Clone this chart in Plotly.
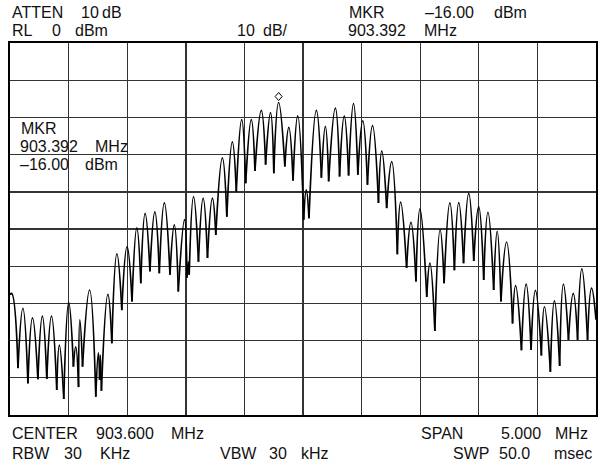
import plotly.graph_objects as go

# ---- data ----
center_mhz = 903.600
span_mhz = 5.000
ref_level_dbm = 0
db_per_div = 10
marker_freq_mhz = 903.392
marker_level_dbm = -16.00

# alternating null / peak vertices of the displayed trace (first value is the
# trace start at the left edge, last is the trace end at the right edge)
freq_mhz = [
    901.100, 901.114, 901.168, 901.210, 901.253, 901.292, 901.338, 901.376, 901.414, 901.454,
    901.499, 901.521, 901.559, 901.601, 901.641, 901.661, 901.685, 901.696, 901.719, 901.779,
    901.832, 901.854, 901.865, 901.871, 901.880, 901.935, 901.969, 902.012, 902.054, 902.099,
    902.141, 902.182, 902.216, 902.253, 902.294, 902.336, 902.374, 902.417, 902.465, 902.502,
    902.536, 902.589, 902.610, 902.621, 902.629, 902.666, 902.708, 902.748, 902.785, 902.827,
    902.856, 902.912, 902.950, 902.997, 903.031, 903.077, 903.111, 903.159, 903.190, 903.244,
    903.281, 903.323, 903.351, 903.392, 903.445, 903.479, 903.515, 903.555, 903.606, 903.628,
    903.651, 903.714, 903.757, 903.791, 903.819, 903.876, 903.912, 903.952, 903.989, 904.031,
    904.068, 904.110, 904.150, 904.193, 904.244, 904.272, 904.314, 904.357, 904.405, 904.433,
    904.484, 904.521, 904.564, 904.598, 904.656, 904.683, 904.725, 904.770, 904.804, 904.853,
    904.892, 904.929, 904.970, 905.014, 905.057, 905.099, 905.142, 905.178, 905.227, 905.257,
    905.289, 905.337, 905.388, 905.414, 905.464, 905.504, 905.546, 905.583, 905.634, 905.660,
    905.711, 905.745, 905.790, 905.822, 905.865, 905.906, 905.943, 905.979, 906.028, 906.062,
    906.100,
]
level_dbm = [
    -67.7, -67.3, -87.4, -71.3, -91.5, -73.9, -90.4, -73.4, -90.3, -73.4,
    -93.3, -81.2, -95.7, -69.8, -87.0, -81.7, -92.5, -74.4, -87.0, -66.4,
    -95.1, -83.3, -90.6, -83.9, -93.5, -67.6, -80.7, -56.7, -71.8, -54.7,
    -69.5, -49.7, -64.6, -45.8, -61.4, -45.4, -61.9, -43.0, -62.3, -48.9,
    -66.8, -47.5, -63.1, -58.8, -62.3, -41.3, -58.8, -41.7, -57.8, -41.7,
    -51.6, -30.9, -46.7, -26.6, -39.9, -20.6, -37.7, -20.6, -34.4, -18.1,
    -32.7, -18.7, -35.0, -16.0, -33.2, -22.7, -37.0, -19.6, -47.5, -39.5,
    -47.1, -18.1, -36.2, -22.4, -37.2, -17.5, -35.9, -19.6, -35.6, -16.3,
    -35.4, -20.9, -38.1, -22.2, -43.0, -29.0, -44.4, -31.9, -56.8, -42.8,
    -60.5, -48.2, -64.1, -44.6, -68.3, -59.2, -77.4, -50.2, -64.6, -43.0,
    -61.1, -42.9, -59.2, -40.4, -58.6, -44.0, -63.7, -45.5, -66.4, -50.6,
    -69.5, -53.5, -75.4, -65.2, -82.6, -64.8, -82.5, -66.5, -84.0, -70.9,
    -88.4, -69.3, -86.8, -64.8, -79.8, -67.3, -79.8, -60.7, -79.8, -65.9,
    -74.4,
]

# header / footer texts: (text, left px, center y px)
header_texts = [
    ("ATTEN", 10, 12), ("10", 79, 12), ("dB", 100, 12),
    ("MKR", 348, 12), ("\u201316.00", 424, 12), ("dBm", 494, 12),
    ("RL", 10, 30), ("0", 50, 30), ("dBm", 73, 30),
    ("10", 236, 30), ("dB/", 262, 30),
    ("903.392", 347, 30), ("MHz", 423, 30),
]
footer_texts = [
    ("CENTER", 10, 433), ("903.600", 94, 433), ("MHz", 170, 433),
    ("SPAN", 420, 433), ("5.000", 501, 433), ("MHz", 555, 433),
    ("RBW", 10, 454), ("30", 62, 454), ("KHz", 98, 454),
    ("VBW", 219, 454), ("30", 268, 454), ("kHz", 300, 454),
    ("SWP", 453, 454), ("50.0", 499, 454), ("msec", 554, 454),
]
inplot_texts = [
    ("MKR", 19, 128.5),
    ("903.392", 18, 146), ("MHz", 93, 146),
    ("\u201316.00", 18, 164), ("dBm", 83, 164),
]

# ---- layout geometry ----
W, H = 604, 466
ML, MR, MT, MB = 10, 6, 43, 51
PW, PH = W - ML - MR, H - MT - MB

def px_to_paper(x, y):
    return (x - ML) / PW, (H - MB - y) / PH

font = dict(family="Liberation Sans, Arial, sans-serif", size=16, color="#111")

# draw each lobe (null -> peak -> null) as its own smoothed arch so that the
# nulls stay sharp cusps like on the analyzer screen
lobe_x, lobe_y = [], []
for i in range(0, len(freq_mhz) - 2, 2):
    lobe_x += [freq_mhz[i], freq_mhz[i + 1], freq_mhz[i + 2], None]
    lobe_y += [level_dbm[i], level_dbm[i + 1], level_dbm[i + 2], None]

fig = go.Figure()
fig.add_trace(go.Scatter(
    x=lobe_x, y=lobe_y, mode="lines", connectgaps=False,
    line=dict(color="black", width=1.7, shape="spline", smoothing=1.3),
    hoverinfo="skip", showlegend=False,
))

annotations = []
for txt, x, y in header_texts + footer_texts + inplot_texts:
    xp, yp = px_to_paper(x, y)
    annotations.append(dict(text=txt, x=xp, y=yp, xref="paper", yref="paper",
                            xanchor="left", yanchor="middle", showarrow=False,
                            font=font))

# marker diamond drawn just above the marked peak (pixel-sized shape anchored on the marker)
shapes = [dict(type="path", xref="x", yref="y",
               xsizemode="pixel", ysizemode="pixel",
               xanchor=marker_freq_mhz, yanchor=marker_level_dbm,
               path="M 0 2 L 3.5 6 L 0 10 L -3.5 6 Z",
               line=dict(color="black", width=1), fillcolor="white")]

f0 = center_mhz - span_mhz / 2
f1 = center_mhz + span_mhz / 2
fig.update_layout(
    width=W, height=H,
    margin=dict(l=ML, r=MR, t=MT, b=MB, pad=0),
    paper_bgcolor="white", plot_bgcolor="white",
    annotations=annotations, shapes=shapes,
    xaxis=dict(range=[f0, f1], dtick=span_mhz / 10, tick0=f0,
               showgrid=True, gridcolor="#333", gridwidth=1.4,
               showticklabels=False, ticks="", zeroline=False,
               showline=True, linecolor="black", linewidth=2, mirror=True),
    yaxis=dict(range=[ref_level_dbm - 10 * db_per_div, ref_level_dbm], dtick=db_per_div,
               showgrid=True, gridcolor="#333", gridwidth=1.4,
               showticklabels=False, ticks="", zeroline=False,
               showline=True, linecolor="black", linewidth=2, mirror=True),
)
fig.write_html(
    "out.html",
    config={"displayModeBar": False, "staticPlot": True},
    post_script="document.body.style.margin='0';document.body.style.overflow='hidden';",
)
